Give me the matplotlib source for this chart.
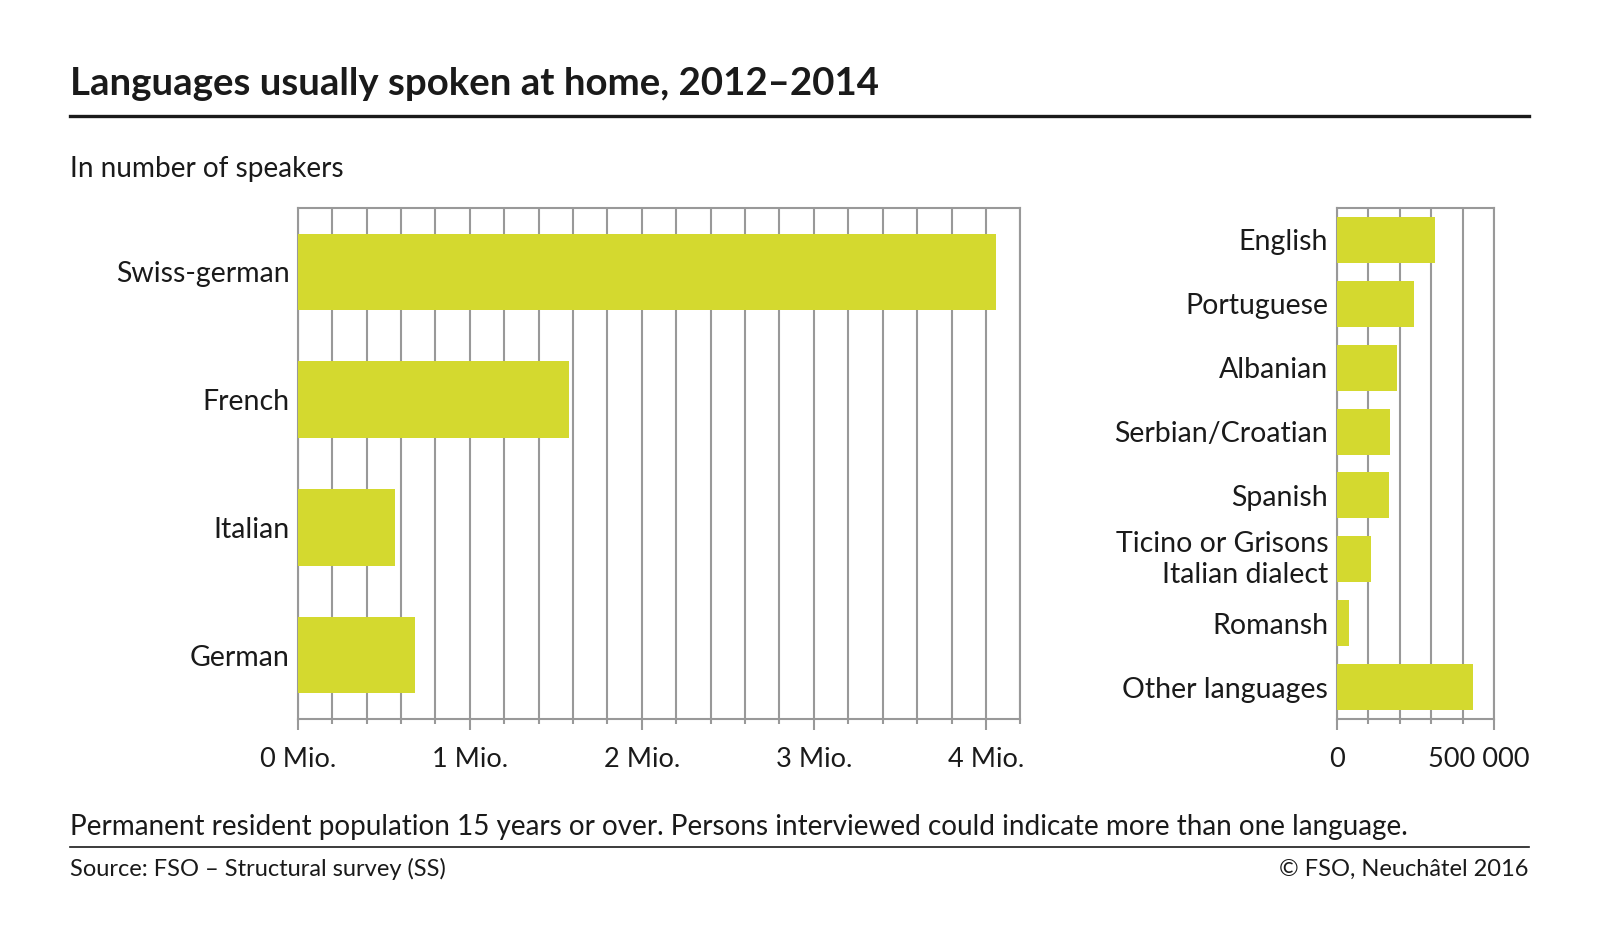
import numpy as np
import matplotlib.pyplot as plt
from matplotlib.ticker import MultipleLocator, FuncFormatter
from matplotlib.transforms import ScaledTranslation

plt.rcParams['font.family'] = ['Lato', 'DejaVu Sans']

# data (number of speakers)
main_langs = ["Swiss-german", "French", "Italian", "German"]
main_values = [4060000, 1579000, 565000, 684000]

other_langs = ["English", "Portuguese", "Albanian", "Serbian/Croatian", "Spanish",
               "Ticino or Grisons\nItalian dialect", "Romansh", "Other languages"]
other_values = [311000, 245000, 192000, 169000, 166000, 108000, 38000, 432000]

bar_color = "#d4d92f"
grid_color = "#999999"
text_color = "#1a1a1a"

fig = plt.figure(figsize=(16, 9.51), dpi=100)


def style_axes(ax):
    for sp in ax.spines.values():
        sp.set_color(grid_color)
        sp.set_linewidth(1.5)
    ax.grid(axis="x", which="both", color=grid_color, linewidth=1.5)
    ax.set_axisbelow(True)
    ax.tick_params(axis="y", length=0, pad=6, labelsize=20.5, labelcolor=text_color)
    ax.tick_params(axis="x", which="major", length=8, width=1.5, color=grid_color,
                   pad=12, labelsize=19.5, labelcolor=text_color)
    ax.tick_params(axis="x", which="minor", length=3.5, width=1.5, color=grid_color)


# left panel: national languages
ax1 = fig.add_axes([0.1861, 0.2440, 0.4516, 0.5373])
y1 = np.arange(len(main_langs))
ax1.barh(y1, main_values, height=0.6, color=bar_color, zorder=3)
ax1.set_yticks(y1)
ax1.set_yticklabels(main_langs)
ax1.set_ylim(len(main_langs) - 0.5, -0.5)
ax1.set_xlim(0, 4200000)
ax1.xaxis.set_major_locator(MultipleLocator(1000000))
ax1.xaxis.set_minor_locator(MultipleLocator(200000))
ax1.xaxis.set_major_formatter(FuncFormatter(lambda v, p: f"{int(round(v / 1e6))} Mio."))
style_axes(ax1)

# right panel: other languages
ax2 = fig.add_axes([0.8354, 0.2440, 0.0986, 0.5373])
y2 = np.arange(len(other_langs))
ax2.barh(y2, other_values, height=0.72, color=bar_color, zorder=3)
ax2.set_yticks(y2)
ax2.set_yticklabels(other_langs, linespacing=1.25)
ax2.get_yticklabels()[5].set_verticalalignment("center")
ax2.set_ylim(len(other_langs) - 0.5, -0.5)
ax2.set_xlim(0, 500000)
ax2.xaxis.set_major_locator(MultipleLocator(500000))
ax2.xaxis.set_minor_locator(MultipleLocator(100000))
ax2.xaxis.set_major_formatter(FuncFormatter(lambda v, p: "0" if v == 0 else ""))
style_axes(ax2)
# last tick label sits inside the right margin, as in the original
lab_tr = ax2.get_xaxis_transform() + ScaledTranslation(-0.16, -20 / 72, fig.dpi_scale_trans)
ax2.text(500000, 0, "500 000", transform=lab_tr, ha="center", va="top",
         fontsize=19.5, color=text_color)

# title, rules and notes
left, right = 0.04375, 0.9556
fig.text(left, 0.9001, "Languages usually spoken at home, 2012\u20132014", fontsize=27.6,
         fontweight="bold", color=text_color, va="baseline")
fig.add_artist(plt.Line2D([left, right], [0.878, 0.878], color=text_color, linewidth=2.4))
fig.text(left, 0.8142, "In number of speakers", fontsize=20.2, color=text_color, va="baseline")
fig.text(left, 0.122, "Permanent resident population 15 years or over. Persons interviewed could "
         "indicate more than one language.", fontsize=20.1, color=text_color, va="baseline")
fig.add_artist(plt.Line2D([left, right], [0.1097, 0.1097], color=text_color, linewidth=1.2))
fig.text(left, 0.079, "Source: FSO \u2013 Structural survey (SS)", fontsize=17, color=text_color,
         va="baseline")
fig.text(right, 0.079, "\u00a9 FSO, Neuch\u00e2tel 2016", fontsize=17, color=text_color,
         va="baseline", ha="right")

fig.savefig("out.png", dpi=100, facecolor="white")
